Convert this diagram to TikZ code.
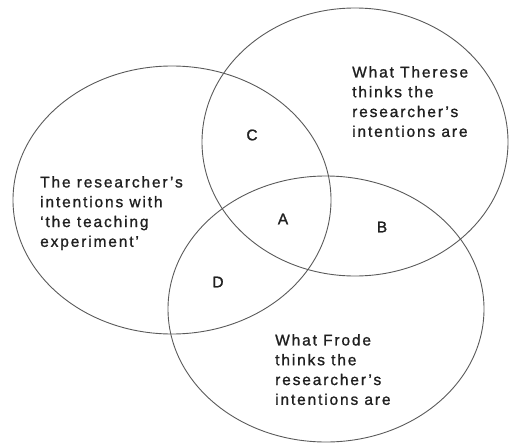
\documentclass[tikz,border=0pt]{standalone}
\usepackage{fontspec}
\setmainfont[LetterSpace=12,FakeBold=1.2]{Liberation Sans}
\usetikzlibrary{shapes.geometric}
\definecolor{ringgray}{HTML}{5A5A5A}
\definecolor{inkgray}{HTML}{202020}
\tikzset{
  ring/.style={ellipse, draw=ringgray, line width=0.9pt, inner sep=0pt, outer sep=0pt},
  lbl/.style={text=inkgray, font=\fontsize{15.5}{19.8}\selectfont, inner sep=0pt, align=left, anchor=north west},
  letter/.style={text=inkgray, font=\fontsize{15.5}{19.8}\selectfont, inner sep=0pt}
}
\begin{document}
\begin{tikzpicture}[x=1pt,y=-1pt]
\useasboundingbox (0,0) rectangle (510,444);
\node[ring, minimum width=318pt, minimum height=268pt] (R) at (172,200) {};
\node[ring, minimum width=306pt, minimum height=268pt] (T) at (355,142) {};
\node[ring, minimum width=316pt, minimum height=266pt] (F) at (326,309) {};
\node[lbl] (tr) at (40,176) {The researcher's\\intentions with\\`the teaching\\experiment'};
\node[lbl] (tt) at (352,66) {What Therese\\thinks the\\researcher's\\intentions are};
\node[lbl] (tf) at (275,334) {What Frode\\thinks the\\researcher's\\intentions are};
\node[letter] (C) at (252,135) {C};
\node[letter] (A) at (283,219) {A};
\node[letter] (B) at (382,227) {B};
\node[letter] (D) at (218,282) {D};
\end{tikzpicture}
\end{document}
